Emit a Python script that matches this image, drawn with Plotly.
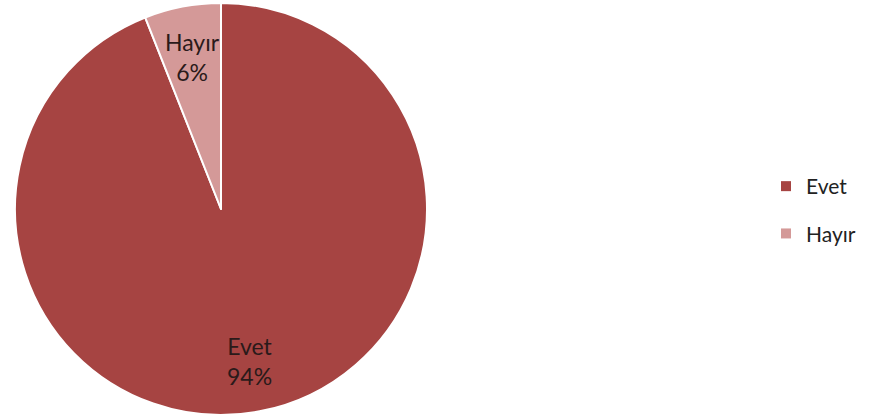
import math
import plotly.graph_objects as go

labels = ["Evet", "Hayır"]
values = [94, 6]
colors = ["#A64442", "#D49998"]

W, H = 871, 417
cx_px, cy_px, r_px = 221, 209, 206

fig = go.Figure()
fig.add_trace(go.Pie(
    labels=labels,
    values=values,
    sort=False,
    direction="clockwise",
    rotation=0,
    marker=dict(colors=colors, line=dict(color="white", width=2)),
    textinfo="none",
    showlegend=False,
    domain=dict(x=[(cx_px - r_px) / W, (cx_px + r_px) / W],
                y=[1 - (cy_px + r_px) / H, 1 - (cy_px - r_px) / H]),
    hoverinfo="label+percent",
))

# legend entries (one group per label for spacing)
for lab, col in zip(labels, colors):
    fig.add_trace(go.Scatter(
        x=[None], y=[None], mode="markers", name=lab, legendgroup=lab,
        marker=dict(symbol="square", size=10, color=col),
    ))

# slice labels at 0.75 radius along each slice's mid-angle
total = sum(values)
cum = 0
for lab, v in zip(labels, values):
    mid = (cum + v / 2) / total * 2 * math.pi
    cum += v
    px = cx_px + 0.75 * r_px * math.sin(mid)
    py = cy_px - 0.75 * r_px * math.cos(mid)
    fig.add_annotation(
        x=px / W, y=1 - py / H, xref="paper", yref="paper",
        xanchor="center", yanchor="middle",
        text=f"{lab}<br>{round(v / total * 100)}%", showarrow=False,
        font=dict(family="Lato", size=23, color="#2a1a1a"),
        align="center",
    )

fig.update_layout(
    width=W, height=H,
    margin=dict(l=0, r=0, t=0, b=0),
    paper_bgcolor="white",
    plot_bgcolor="white",
    xaxis=dict(visible=False),
    yaxis=dict(visible=False),
    showlegend=True,
    legend=dict(x=766 / W, y=1 - 166 / H, xanchor="left", yanchor="top",
                font=dict(family="Lato", size=21, color="#222222"),
                itemwidth=30, tracegroupgap=17, traceorder="grouped",
                bgcolor="rgba(0,0,0,0)"),
)

fig.write_html("out.html", config={"displayModeBar": False},
               post_script="document.body.style.margin='0';document.body.style.padding='0';")
